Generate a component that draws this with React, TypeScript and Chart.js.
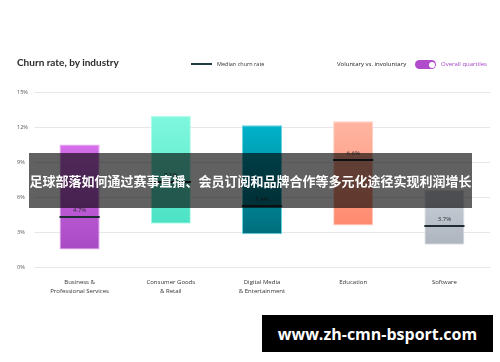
import React, { useEffect, useRef } from "react";
import { Chart, registerables } from "chart.js";

Chart.register(...registerables);

const categories: string[][] = [
  ["Business &", "Professional Services"],
  ["Consumer Goods", "& Retail"],
  ["Digital Media", "& Entertainment"],
  ["Education"],
  ["Software"],
];
const lowValues = [1.5, 3.7, 2.8, 3.55, 1.9];
const highValues = [10.5, 12.95, 12.15, 12.5, 6.6];
const medianValues = [4.25, 7.25, 5.25, 9.15, 3.55];
const medianLabels = ["4.7%", "7.1%", "5.4%", "6.6%", "3.7%"];
const yTicks = [0, 3, 6, 9, 12, 15];

const topColors = ["#d56fea", "#80f8de", "#00b3ca", "#ffb6a2", "#cbd1d9"];
const bottomColors = ["#a94ac5", "#4ce2c5", "#006d7b", "#ff8a6e", "#adb4be"];
const borderColors = ["#e6a6f2", "#b0fbe9", "#63d3e0", "#ffd2c4", "#dde1e6"];

const medianPlugin = {
  id: "medianPlugin",
  afterDatasetsDraw(chart: any) {
    const { ctx } = chart;
    const meta = chart.getDatasetMeta(0);
    const y = chart.scales.y;
    ctx.save();
    meta.data.forEach((bar: any, i: number) => {
      const half = bar.width / 2;
      const py = Math.round(y.getPixelForValue(medianValues[i]));
      ctx.fillStyle = "#1f2a31";
      ctx.fillRect(bar.x - half, py - 1, bar.width, 2);
      ctx.font = "6px 'Open Sans', sans-serif";
      ctx.fillStyle = "#333";
      ctx.textAlign = "center";
      ctx.textBaseline = "middle";
      ctx.fillText(medianLabels[i], bar.x, py - 7);
    });
    ctx.restore();
  },
};

export default function App() {
  const ref = useRef<HTMLCanvasElement | null>(null);

  useEffect(() => {
    if (!ref.current) return;
    const chart = new Chart(ref.current, {
      type: "bar",
      data: {
        labels: categories,
        datasets: [
          {
            data: lowValues.map((l, i) => [l, highValues[i]]) as any,
            backgroundColor: (c: any) => {
              const ch = c.chart;
              const i = c.dataIndex;
              if (i === undefined || !ch.chartArea) return topColors[0];
              const ys = ch.scales?.y;
              const y0 = ys ? ys.getPixelForValue(highValues[i]) : NaN;
              const y1 = ys ? ys.getPixelForValue(lowValues[i]) : NaN;
              if (!isFinite(y0) || !isFinite(y1)) return topColors[i];
              const g = ch.ctx.createLinearGradient(0, y0, 0, y1);
              g.addColorStop(0, topColors[i]);
              g.addColorStop(1, bottomColors[i]);
              return g;
            },
            borderColor: borderColors,
            borderWidth: 1,
            borderSkipped: false,
            categoryPercentage: 1,
            barPercentage: 0.44,
          },
        ],
      },
      options: {
        animation: false,
        responsive: false,
        maintainAspectRatio: false,
        layout: { padding: { left: 17, right: 10, top: 92, bottom: 0 } },
        plugins: { legend: { display: false }, tooltip: { enabled: false } },
        scales: {
          x: {
            grid: { display: false },
            border: { display: false },
            ticks: {
              color: "#333",
              font: { size: 6, family: "'Open Sans', sans-serif", lineHeight: 1.5 },
              padding: 3,
              maxRotation: 0,
              autoSkip: false,
            },
            afterFit: (s: any) => {
              s.height = 33;
            },
          },
          y: {
            min: 0,
            max: 15,
            afterBuildTicks: (s: any) => {
              s.ticks = yTicks.map((v) => ({ value: v }));
            },
            grid: { color: "#e5e7ec", drawTicks: false, lineWidth: 1 },
            border: { display: false },
            ticks: {
              color: "#555",
              font: { size: 5.5, family: "'Open Sans', sans-serif" },
              crossAlign: "far",
              callback: (v: any) => v + "%",
            },
            afterFit: (s: any) => {
              s.width = 17;
            },
          },
        },
      },
      plugins: [medianPlugin],
    });
    return () => chart.destroy();
  }, []);

  const sans = "'Open Sans', 'Noto Sans', sans-serif";
  return (
    <div
      style={{
        position: "fixed",
        left: 0,
        top: 0,
        width: 500,
        height: 362,
        background: "#fff",
        overflow: "hidden",
        fontFamily: sans,
      }}
    >
      <canvas ref={ref} width={500} height={300} style={{ position: "absolute", left: 0, top: 0 }} />
      <div
        style={{
          position: "absolute",
          left: 17,
          top: 56,
          fontSize: 10,
          fontWeight: 700,
          color: "#2b2b2b",
          fontFamily: "Lato, sans-serif",
          whiteSpace: "nowrap",
        }}
      >
        Churn rate, by industry
      </div>
      <div style={{ position: "absolute", left: 191, top: 63, width: 21, height: 2, background: "#1d3c44" }} />
      <div style={{ position: "absolute", left: 217, top: 59.5, fontSize: 5.5, color: "#333", whiteSpace: "nowrap" }}>
        Median churn rate
      </div>
      <div style={{ position: "absolute", left: 337, top: 59.5, fontSize: 6, color: "#222", whiteSpace: "nowrap" }}>
        Voluntary vs. involuntary
      </div>
      <div
        style={{
          position: "absolute",
          left: 415,
          top: 60,
          width: 21,
          height: 9,
          borderRadius: 5,
          background: "#b04ccc",
        }}
      >
        <div
          style={{
            position: "absolute",
            right: 1.5,
            top: 1.5,
            width: 6,
            height: 6,
            borderRadius: 3,
            background: "#fff",
          }}
        />
      </div>
      <div style={{ position: "absolute", left: 441, top: 59.5, fontSize: 6, color: "#a646c5", whiteSpace: "nowrap" }}>
        Overall quartiles
      </div>
      <div
        style={{
          position: "absolute",
          left: 29,
          top: 153,
          width: 443,
          height: 55,
          background: "rgba(0,0,0,0.62)",
          display: "flex",
          alignItems: "center",
          justifyContent: "center",
          whiteSpace: "nowrap",
          color: "#fff",
          fontSize: 13,
          fontWeight: 700,
          fontFamily: "'Noto Sans CJK SC', sans-serif",
        }}
      >
        足球部落如何通过赛事直播、会员订阅和品牌合作等多元化途径实现利润增长
      </div>
      <div
        style={{
          position: "absolute",
          left: 262,
          top: 315,
          width: 231,
          height: 37,
          background: "#000",
          display: "flex",
          alignItems: "center",
          justifyContent: "center",
          color: "#fff",
          fontSize: 16,
          fontWeight: 700,
          fontFamily: "'Open Sans', sans-serif",
          whiteSpace: "nowrap",
        }}
      >
        www.zh-cmn-bsport.com
      </div>
    </div>
  );
}
